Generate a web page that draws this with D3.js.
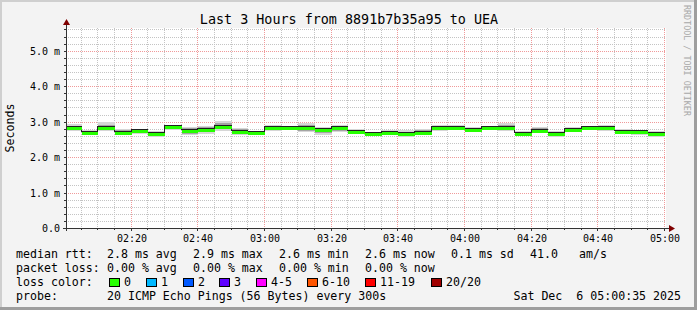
<!DOCTYPE html>
<html>
<head>
<meta charset="utf-8">
<script src="https://cdn.jsdelivr.net/npm/d3@7/dist/d3.min.js"></script>
<style>
  body { margin: 0; background: #f3f3f3; }
  svg { display: block; }
  text { font-family: "DejaVu Sans Mono", monospace; fill: #000; }
</style>
</head>
<body>
<svg id="vis"></svg>
<script>
// 5 minute slots, start of each step
const slots = ["02:00","02:05","02:10","02:15","02:20","02:25","02:30","02:35","02:40","02:45","02:50","02:55",
               "03:00","03:05","03:10","03:15","03:20","03:25","03:30","03:35","03:40","03:45","03:50","03:55",
               "04:00","04:05","04:10","04:15","04:20","04:25","04:30","04:35","04:40","04:45","04:50","04:55"];
// median rtt (ms)
const medianMs = [2.83,2.67,2.83,2.69,2.73,2.66,2.85,2.73,2.77,2.86,2.72,2.67,
                  2.81,2.81,2.82,2.75,2.81,2.71,2.66,2.69,2.65,2.69,2.81,2.81,
                  2.77,2.82,2.82,2.66,2.74,2.66,2.77,2.81,2.81,2.72,2.71,2.66];
// smoke: min / max of the pings (ms)
const smokeLo = [2.74,2.62,2.74,2.64,2.65,2.57,2.76,2.63,2.66,2.74,2.63,2.63,
                 2.74,2.76,2.70,2.62,2.70,2.64,2.62,2.61,2.58,2.63,2.74,2.76,
                 2.70,2.76,2.74,2.60,2.67,2.56,2.70,2.75,2.74,2.66,2.63,2.58];
const smokeHi = [2.92,2.76,2.98,2.78,2.80,2.74,2.90,2.84,2.88,3.02,2.82,2.74,
                 2.90,2.88,2.96,2.84,2.90,2.80,2.72,2.76,2.76,2.80,2.90,2.90,
                 2.86,2.88,2.95,2.74,2.84,2.74,2.86,2.88,2.91,2.78,2.76,2.74];
// inner (darker) smoke band (ms)
const smokeMidLo = [2.77,2.63,2.77,2.65,2.67,2.60,2.79,2.66,2.70,2.78,2.66,2.64,
                    2.76,2.78,2.74,2.67,2.74,2.66,2.63,2.63,2.60,2.65,2.76,2.78,
                    2.72,2.78,2.77,2.62,2.69,2.60,2.72,2.77,2.77,2.68,2.65,2.60];
const smokeMidHi = [2.89,2.73,2.91,2.75,2.78,2.71,2.88,2.82,2.85,2.96,2.79,2.71,
                    2.87,2.86,2.91,2.81,2.87,2.77,2.70,2.73,2.72,2.76,2.87,2.87,
                    2.83,2.86,2.91,2.71,2.81,2.71,2.83,2.86,2.88,2.76,2.74,2.71];

const yTicks = [0, 1, 2, 3, 4, 5];
const yTickLabels = ["0.0", "1.0 m", "2.0 m", "3.0 m", "4.0 m", "5.0 m"];

const titleText = "Last 3 Hours from 8891b7b35a95 to UEA";
const rttLegend = ["median rtt:", "2.8 ms avg", "2.9 ms max", "2.6 ms min", "2.6 ms now", "0.1 ms sd", "41.0", "am/s"];
const lossLegend = ["packet loss:", "0.00 % avg", "0.00 % max", "0.00 % min", "0.00 % now"];
const lossNames = ["0", "1", "2", "3", "4-5", "6-10", "11-19", "20/20"];
const lossColors = ["#26ff00", "#00b8ff", "#0059ff", "#5e00ff", "#ff00ff", "#ff5500", "#ff0000", "#a00000"];
const probeText = ["probe:", "20 ICMP Echo Pings (56 Bytes) every 300s", "Sat Dec  6 05:00:35 2025"];

const WIDTH = 697, HEIGHT = 310;
const PLOT = {left: 66, right: 666, top: 28, bottom: 228};

const parseSlot = s => {
    const [h, m] = s.split(":").map(Number);
    return new Date(Date.UTC(2025, 11, 6, h, m, 0));
};
const STEP = 5 * 60 * 1000;

const svg = d3.select("#vis").attr("width", WIDTH).attr("height", HEIGHT);

// frame
svg.append("rect").attr("width", WIDTH).attr("height", HEIGHT).attr("fill", "#f3f3f3");
svg.append("rect").attr("x", 0).attr("y", 0).attr("width", WIDTH).attr("height", 2).attr("fill", "#cfcfcf");
svg.append("rect").attr("x", 0).attr("y", 0).attr("width", 2).attr("height", HEIGHT).attr("fill", "#cfcfcf");
svg.append("rect").attr("x", 0).attr("y", HEIGHT - 3).attr("width", WIDTH).attr("height", 3).attr("fill", "#9e9e9e");
svg.append("rect").attr("x", WIDTH - 3).attr("y", 0).attr("width", 3).attr("height", HEIGHT).attr("fill", "#9e9e9e");

const t0 = new Date(Date.UTC(2025, 11, 6, 2, 0, 35));
const t1 = new Date(Date.UTC(2025, 11, 6, 5, 0, 35));
const x = d3.scaleUtc().domain([t0, t1]).range([PLOT.left, PLOT.right]);
const y = d3.scaleLinear().domain([0, 5.64]).range([PLOT.bottom, PLOT.top]);

// canvas
svg.append("rect")
    .attr("x", PLOT.left).attr("y", PLOT.top)
    .attr("width", PLOT.right - PLOT.left).attr("height", PLOT.bottom - PLOT.top)
    .attr("fill", "#fff");

svg.append("clipPath").attr("id", "clip").append("rect")
    .attr("x", PLOT.left + 1).attr("y", PLOT.top)
    .attr("width", PLOT.right - PLOT.left).attr("height", PLOT.bottom - PLOT.top);

// grid
const grid = svg.append("g").attr("shape-rendering", "crispEdges");
const minorX = x.ticks(d3.utcMinute.every(5));
const majorX = x.ticks(d3.utcMinute.every(20));
const minorY = d3.range(0, 56).map(i => i / 5).filter(v => v <= 5.64 && v % 1 !== 0);

grid.selectAll(".mx").data(minorX).enter().append("line")
    .attr("x1", d => Math.round(x(d)) + 0.5).attr("x2", d => Math.round(x(d)) + 0.5)
    .attr("y1", PLOT.top).attr("y2", PLOT.bottom)
    .attr("stroke", "#c4c4c4").attr("stroke-dasharray", "1,1");
grid.selectAll(".my").data(minorY).enter().append("line")
    .attr("x1", PLOT.left).attr("x2", PLOT.right)
    .attr("y1", d => Math.round(y(d)) + 0.5).attr("y2", d => Math.round(y(d)) + 0.5)
    .attr("stroke", "#c4c4c4").attr("stroke-dasharray", "1,1");
grid.selectAll(".Mx").data(majorX).enter().append("line")
    .attr("x1", d => Math.round(x(d)) + 0.5).attr("x2", d => Math.round(x(d)) + 0.5)
    .attr("y1", PLOT.top).attr("y2", PLOT.bottom)
    .attr("stroke", "#f09a9a").attr("stroke-dasharray", "1,1");
grid.selectAll(".My").data(yTicks.slice(1)).enter().append("line")
    .attr("x1", PLOT.left).attr("x2", PLOT.right)
    .attr("y1", d => Math.round(y(d)) + 0.5).attr("y2", d => Math.round(y(d)) + 0.5)
    .attr("stroke", "#f09a9a").attr("stroke-dasharray", "1,1");

// smoke
const data = slots.map((s, i) => ({
    t: parseSlot(s), med: medianMs[i], lo: smokeLo[i], hi: smokeHi[i],
    mlo: smokeMidLo[i], mhi: smokeMidHi[i]
}));
const plot = svg.append("g").attr("clip-path", "url(#clip)").attr("shape-rendering", "crispEdges");
const stepX = d => Math.round(x(d.t)) + 1;
const stepW = d => Math.round(x(new Date(+d.t + STEP))) - Math.round(x(d.t));

plot.selectAll(".smoke").data(data).enter().append("rect")
    .attr("x", stepX).attr("width", stepW)
    .attr("y", d => Math.round(y(d.hi))).attr("height", d => Math.round(y(d.lo)) - Math.round(y(d.hi)))
    .attr("fill", "#d6d6d6");
plot.selectAll(".smoke2").data(data).enter().append("rect")
    .attr("x", stepX).attr("width", stepW)
    .attr("y", d => Math.round(y(d.mhi))).attr("height", d => Math.round(y(d.mlo)) - Math.round(y(d.mhi)))
    .attr("fill", "#a4a4a4");

// median line (black), then loss coloured band
const pts = data.map(d => [d.t, d.med]);
pts.push([new Date(+data[data.length - 1].t + STEP), data[data.length - 1].med]);
const line = d3.line()
    .x(d => Math.round(x(d[0])) + 0.5)
    .y(d => Math.round(y(d[1])) - 1.5)
    .curve(d3.curveStepAfter);
plot.append("path").datum(pts).attr("d", line)
    .attr("fill", "none").attr("stroke", "#202020").attr("stroke-width", 1);
plot.selectAll(".med").data(data).enter().append("rect")
    .attr("x", stepX).attr("width", stepW)
    .attr("y", d => Math.round(y(d.med)) - 1).attr("height", 3)
    .attr("fill", lossColors[0]);

// axes
const ax = svg.append("g").attr("shape-rendering", "crispEdges");
ax.selectAll(".tx").data(minorX).enter().append("line")
    .attr("x1", d => Math.round(x(d)) + 0.5).attr("x2", d => Math.round(x(d)) + 0.5)
    .attr("y1", PLOT.bottom).attr("y2", d => majorX.some(m => +m === +d) ? PLOT.bottom + 3 : PLOT.bottom + 2)
    .attr("stroke", "#333");
ax.selectAll(".ty").data(minorY.concat(yTicks)).enter().append("line")
    .attr("x1", PLOT.left - 2).attr("x2", PLOT.left)
    .attr("y1", d => Math.round(y(d)) + 0.5).attr("y2", d => Math.round(y(d)) + 0.5)
    .attr("stroke", "#333");
ax.append("line").attr("x1", PLOT.left - 3).attr("x2", PLOT.right + 4)
    .attr("y1", PLOT.bottom + 0.5).attr("y2", PLOT.bottom + 0.5).attr("stroke", "#333");
ax.append("line").attr("x1", PLOT.left + 0.5).attr("x2", PLOT.left + 0.5)
    .attr("y1", PLOT.bottom + 3).attr("y2", PLOT.top - 4).attr("stroke", "#333");
svg.append("path")
    .attr("d", `M${PLOT.right + 3},${PLOT.bottom - 3}L${PLOT.right + 9},${PLOT.bottom + 0.5}L${PLOT.right + 3},${PLOT.bottom + 4}Z`)
    .attr("fill", "#7f0000");
svg.append("path")
    .attr("d", `M${PLOT.left - 3},${PLOT.top - 3}L${PLOT.left + 0.5},${PLOT.top - 9}L${PLOT.left + 4},${PLOT.top - 3}Z`)
    .attr("fill", "#7f0000");

const fmt = d3.utcFormat("%H:%M");
svg.selectAll(".xl").data(majorX).enter().append("text")
    .attr("x", d => Math.round(x(d)) + 1).attr("y", 242)
    .attr("text-anchor", "middle").style("font-size", "10px")
    .text(d => fmt(d));
svg.selectAll(".yl").data(yTicks).enter().append("text")
    .attr("x", 60).attr("y", d => Math.round(y(d)) + 4)
    .attr("text-anchor", "end").style("font-size", "10px")
    .text((d, i) => yTickLabels[i]);

svg.append("text").attr("transform", "translate(14,128) rotate(-90)")
    .attr("text-anchor", "middle").style("font-size", "11.6px").text("Seconds");

svg.append("text").attr("x", 349).attr("y", 24)
    .attr("text-anchor", "middle").style("font-size", "13.4px").text(titleText);

svg.append("text").attr("transform", "translate(684,5) rotate(90)")
    .style("font-size", "8.4px").style("fill", "#a8a8a8").text("RRDTOOL / TOBI OETIKER");

// legend
const LF = "11.6px";
const rttX = [16, 107, 193, 279, 365, 451, 530, 579];
svg.selectAll(".r1").data(rttLegend).enter().append("text")
    .attr("x", (d, i) => rttX[i]).attr("y", 258).style("font-size", LF)
    .attr("xml:space", "preserve").text(d => d);
svg.selectAll(".r2").data(lossLegend).enter().append("text")
    .attr("x", (d, i) => rttX[i]).attr("y", 272).style("font-size", LF)
    .attr("xml:space", "preserve").text(d => d);

svg.append("text").attr("x", 16).attr("y", 286).style("font-size", LF).text("loss color:");
const boxX = [109, 146, 183, 219, 256, 307, 365, 431];
svg.selectAll(".lb").data(lossColors).enter().append("rect")
    .attr("x", (d, i) => boxX[i] + 0.5).attr("y", 278.5).attr("width", 10).attr("height", 8)
    .attr("fill", d => d).attr("stroke", "#000").attr("stroke-width", 1);
svg.selectAll(".ln").data(lossNames).enter().append("text")
    .attr("x", (d, i) => boxX[i] + 15).attr("y", 286).style("font-size", LF)
    .text(d => d);

svg.append("text").attr("x", 16).attr("y", 300).style("font-size", LF).text(probeText[0]);
svg.append("text").attr("x", 107).attr("y", 300).style("font-size", LF).text(probeText[1]);
svg.append("text").attr("x", 681).attr("y", 300).attr("text-anchor", "end")
    .style("font-size", LF).style("white-space", "pre").text(probeText[2]);
</script>
</body>
</html>
